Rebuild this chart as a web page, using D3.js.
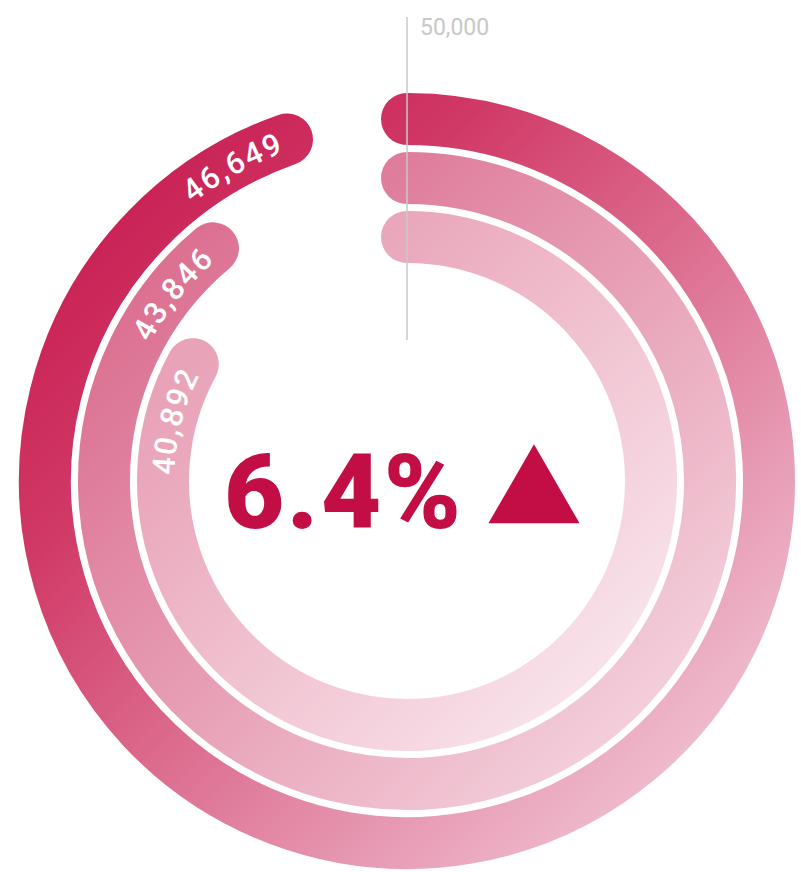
<!DOCTYPE html>
<html>
<head>
<meta charset="utf-8">
<script src="https://cdn.jsdelivr.net/npm/d3@7"></script>
<style>
  html, body { margin: 0; padding: 0; background: #fff; }
  svg { display: block; }
</style>
</head>
<body>
<div id="chart"></div>
<script>
// ---- data ----
const labels = ["46,649", "43,846", "40,892"]
const values = [46649, 43846, 40892]
const maxLabel = "50,000"
const changeText = "6.4%"

// gradient stops per ring (dark top-left -> light bottom-right)
const ringStops = [
    [["0%", "#c41049"], ["30%", "#d03865"], ["70%", "#e696b0"], ["100%", "#f7dce5"]],
    [["0%", "#d95e83"], ["27%", "#df7f9d"], ["100%", "#f8e2e9"]],
    [["0%", "#e697ae"], ["27%", "#eaa8bc"], ["100%", "#fcf1f5"]],
]

const width = 801, height = 872
const cx = 407, cy = 481
const band = 52
const step = 59
const outerR = 388

// angle scale: full circle ends at the reference line
const angle = d3.scaleLinear().domain([0, 49300]).range([0, 2 * Math.PI])

const svg = d3.select("#chart")
    .append("svg")
    .attr("width", width)
    .attr("height", height)

const defs = svg.append("defs")

const midR = (i) => outerR - i * step - band / 2

ringStops.forEach((stops, i) => {
    let r = outerR - i * step
    let g = defs.append("linearGradient")
        .attr("id", "ring-grad-" + i)
        .attr("gradientUnits", "userSpaceOnUse")
        .attr("x1", cx - r).attr("y1", cy - r)
        .attr("x2", cx + r).attr("y2", cy + r)
    stops.forEach(s => {
        g.append("stop").attr("offset", s[0]).attr("stop-color", s[1])
    })
})

// arc path from top, clockwise
function arcPath(r, theta) {
    let p = d3.path()
    p.arc(cx, cy, r, -Math.PI / 2, -Math.PI / 2 + theta)
    return p.toString()
}

// bands
svg.append("g")
    .selectAll("path")
    .data(values)
    .enter()
    .append("path")
        .attr("d", (d, i) => arcPath(midR(i), angle(d)))
        .attr("fill", "none")
        .attr("stroke", (d, i) => "url(#ring-grad-" + i + ")")
        .attr("stroke-width", band)
        .attr("stroke-linecap", "round")

// label paths
values.forEach((d, i) => {
    defs.append("path")
        .attr("id", "label-path-" + i)
        .attr("d", arcPath(midR(i), angle(d) + 0.3))
})

svg.append("g")
    .selectAll("text")
    .data(values)
    .enter()
    .append("text")
        .attr("fill", "#fff")
        .attr("font-family", "Roboto, 'DejaVu Sans', sans-serif")
        .attr("font-weight", 500)
        .attr("font-size", 31)
        .attr("letter-spacing", 2.5)
        .attr("dy", "0.36em")
        .append("textPath")
            .attr("href", (d, i) => "#label-path-" + i)
            .attr("startOffset", (d, i) => angle(d) * midR(i) - 6)
            .attr("text-anchor", "end")
            .text((d, i) => labels[i])

// reference line + max label
svg.append("line")
    .attr("x1", cx).attr("x2", cx)
    .attr("y1", 17).attr("y2", 340)
    .attr("stroke", "#c8c8c8")
    .attr("stroke-width", 1.5)

svg.append("text")
    .attr("x", 420)
    .attr("y", 35)
    .attr("fill", "#c8c8c8")
    .attr("font-family", "Roboto, sans-serif")
    .attr("font-size", 23)
    .text(maxLabel)

// centre figure
svg.append("text")
    .attr("x", 224)
    .attr("y", 528)
    .attr("fill", "#c30d45")
    .attr("font-family", "Roboto, sans-serif")
    .attr("font-weight", 900)
    .attr("font-size", 104)
    .attr("textLength", 237)
    .attr("lengthAdjust", "spacing")
    .text(changeText)

svg.append("path")
    .attr("d", d3.symbol().type(d3.symbolTriangle).size(3600))
    .attr("transform", "translate(534,497)")
    .attr("fill", "#c30d45")
</script>
</body>
</html>
